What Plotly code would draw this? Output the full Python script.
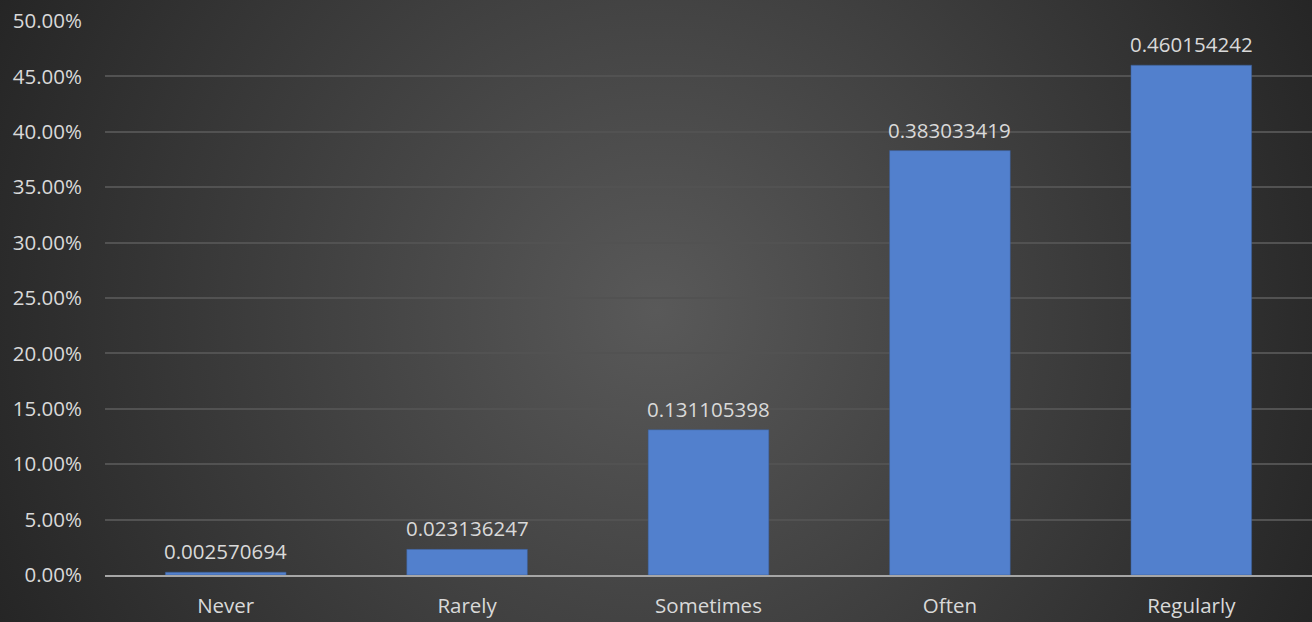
import plotly.graph_objects as go
import urllib.parse

categories = ["Never", "Rarely", "Sometimes", "Often", "Regularly"]
values = [0.002570694, 0.023136247, 0.131105398, 0.383033419, 0.460154242]
labels = ["0.002570694", "0.023136247", "0.131105398", "0.383033419", "0.460154242"]
tick_vals = [0, 0.05, 0.10, 0.15, 0.20, 0.25, 0.30, 0.35, 0.40, 0.45, 0.50]

svg = (
    "<svg xmlns='http://www.w3.org/2000/svg' width='1312' height='622' viewBox='0 0 1312 622' preserveAspectRatio='none'>"
    "<defs><radialGradient id='g' cx='656' cy='311' r='760' gradientUnits='userSpaceOnUse'>"
    "<stop offset='0' stop-color='#595959'/><stop offset='1' stop-color='#232323'/>"
    "</radialGradient></defs><rect width='1312' height='622' fill='url(#g)'/></svg>"
)
bg_src = "data:image/svg+xml;charset=utf-8," + urllib.parse.quote(svg)

FONT = "Open Sans"
TXT = "#d9d9d9"
FS = 20.5

fig = go.Figure()
fig.add_trace(go.Bar(
    x=categories, y=values,
    marker=dict(color="#5280cd", line=dict(color="#3a5a90", width=0.5)),
    width=0.5,
))

for c, v, t in zip(categories, values, labels):
    fig.add_annotation(x=c, y=v, text=t, showarrow=False, yanchor="bottom",
                       yshift=5, font=dict(family=FONT, size=FS, color=TXT))

fig.update_layout(
    width=1312, height=622,
    margin=dict(l=105, r=0, t=21, b=47),
    paper_bgcolor="#3a3a3a", plot_bgcolor="rgba(0,0,0,0)",
    images=[dict(source=bg_src, xref="paper", yref="paper",
                 x=-105/1207, y=1 + 21/554, sizex=1312/1207, sizey=622/554,
                 xanchor="left", yanchor="top", sizing="stretch", layer="below")],
    showlegend=False,
    font=dict(family=FONT, size=FS, color=TXT),
)

fig.update_yaxes(range=[0, 0.5], tickvals=tick_vals, tickformat=".2%",
                 showgrid=True, gridcolor="#525252", gridwidth=1.5,
                 zeroline=False, showline=False, ticks="", ticklabelstandoff=22,
                 tickfont=dict(family=FONT, size=FS, color=TXT))
fig.update_xaxes(showline=True, linecolor="#a6a6a6", linewidth=2, ticks="",
                 ticklabelstandoff=11, tickfont=dict(family=FONT, size=FS, color=TXT))

fig.write_html("out.html")
